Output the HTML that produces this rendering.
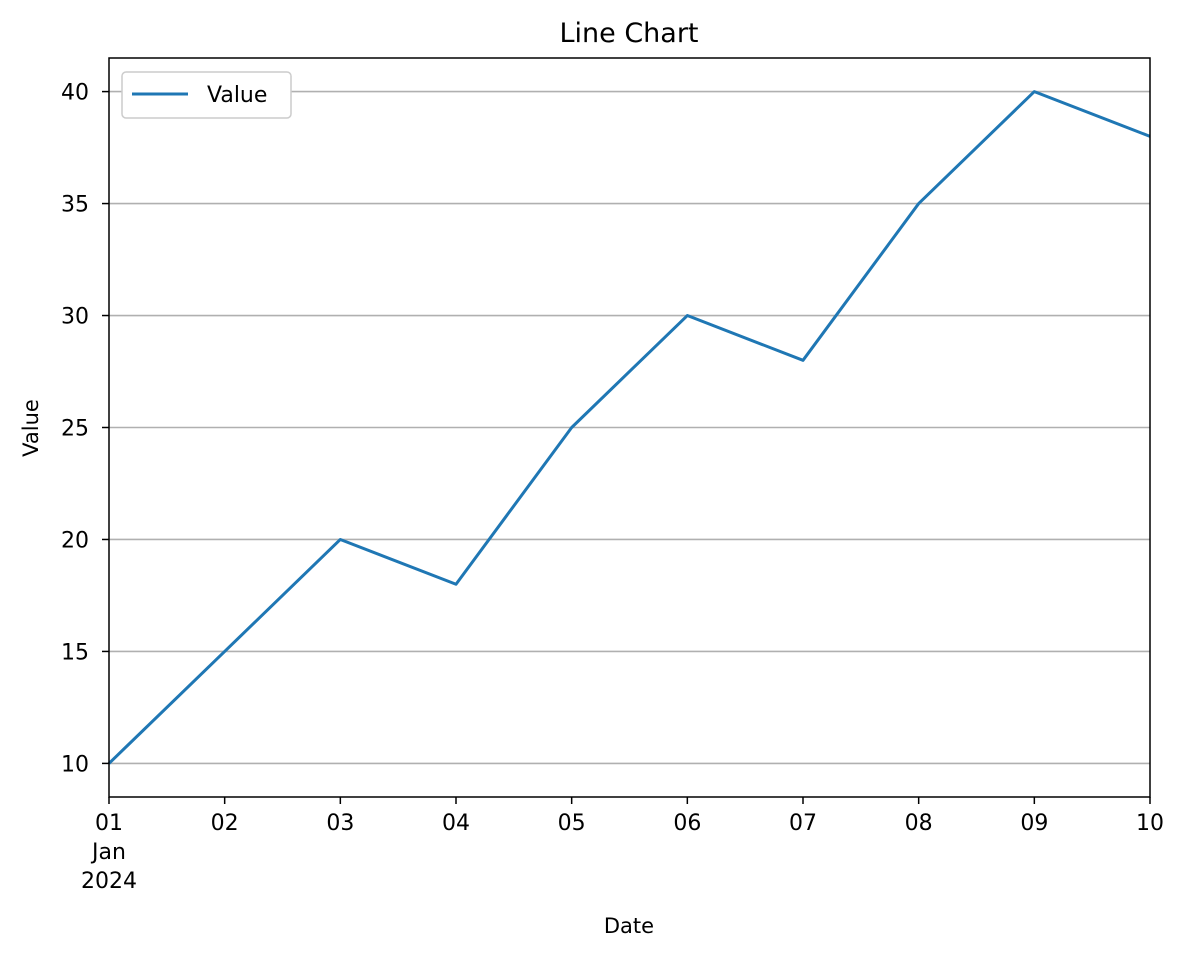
<!DOCTYPE html>
<html><head><meta charset="utf-8"><style>
html,body{margin:0;padding:0;background:#fff;}
svg text{font-family:"DejaVu Sans","Liberation Sans",sans-serif;fill:#000;}
</style></head><body>
<svg id="chart" width="1186" height="958" xmlns="http://www.w3.org/2000/svg">
<rect width="1186" height="958" fill="#fff"/>
<text x="629" y="42" font-size="27" text-anchor="middle">Line Chart</text>
<g id="grid"></g>
<g id="series"></g>
<g id="axes"></g>
<text x="629" y="933" font-size="21" text-anchor="middle">Date</text>
<text transform="translate(38,428) rotate(-90)" font-size="21" text-anchor="middle">Value</text>
<g>
<rect x="122" y="72" width="169" height="46" rx="4" fill="#fff" stroke="#ccc" stroke-width="1.5"/>
<line x1="132" y1="94" x2="188" y2="94" stroke="#1f77b4" stroke-width="3"/>
<text x="207" y="102" font-size="22">Value</text>
</g>
</svg>
<script>
const days = ["01","02","03","04","05","06","07","08","09","10"];
const values = [10,15,20,18,25,30,28,35,40,38];
const yTicks = [10,15,20,25,30,35,40];

const L=109,R=1150,T=58,B=797,yMin=8.5,yMax=41.5;
const NS="http://www.w3.org/2000/svg";
const x=i=>L+(R-L)*i/(days.length-1);
const y=v=>B-(B-T)*(v-yMin)/(yMax-yMin);
function mk(tag,attrs,parent,text){const e=document.createElementNS(NS,tag);for(const k in attrs)e.setAttribute(k,attrs[k]);if(text!==undefined)e.textContent=text;document.getElementById(parent).appendChild(e);return e;}

yTicks.forEach(v=>{
  const g=mk('line',{x1:L,x2:R,y1:y(v),y2:y(v),stroke:'#b0b0b0','stroke-width':1.6},'grid');
  
  
  const t=mk('line',{x1:L-7,x2:L,y1:y(v),y2:y(v),stroke:'#000','stroke-width':1.5},'axes');
  
  
  const l=mk('text',{x:L-20,y:y(v)+8,'font-size':22,'text-anchor':'end'},'axes',String(v));
  
  
});
days.forEach((d,i)=>{
  const t=mk('line',{x1:x(i),x2:x(i),y1:B,y2:B+7,stroke:'#000','stroke-width':1.5},'axes');
  
  
  const l=mk('text',{x:x(i),y:B+33,'font-size':22,'text-anchor':'middle'},'axes',d);
  
  
});
const m=mk('text',{x:x(0),y:B+62,'font-size':22,'text-anchor':'middle'},'axes','Jan');


const yr=mk('text',{x:x(0),y:B+91,'font-size':22,'text-anchor':'middle'},'axes','2024');



const pts=values.map((v,i)=>x(i)+','+y(v)).join(' ');
const line=mk('polyline',{points:pts,fill:'none',stroke:'#1f77b4','stroke-width':3,'stroke-linejoin':'round'},'series');



const frame=mk('rect',{x:L,y:T,width:R-L,height:B-T,fill:'none',stroke:'#000','stroke-width':1.5},'axes');


</script>
</body></html>
